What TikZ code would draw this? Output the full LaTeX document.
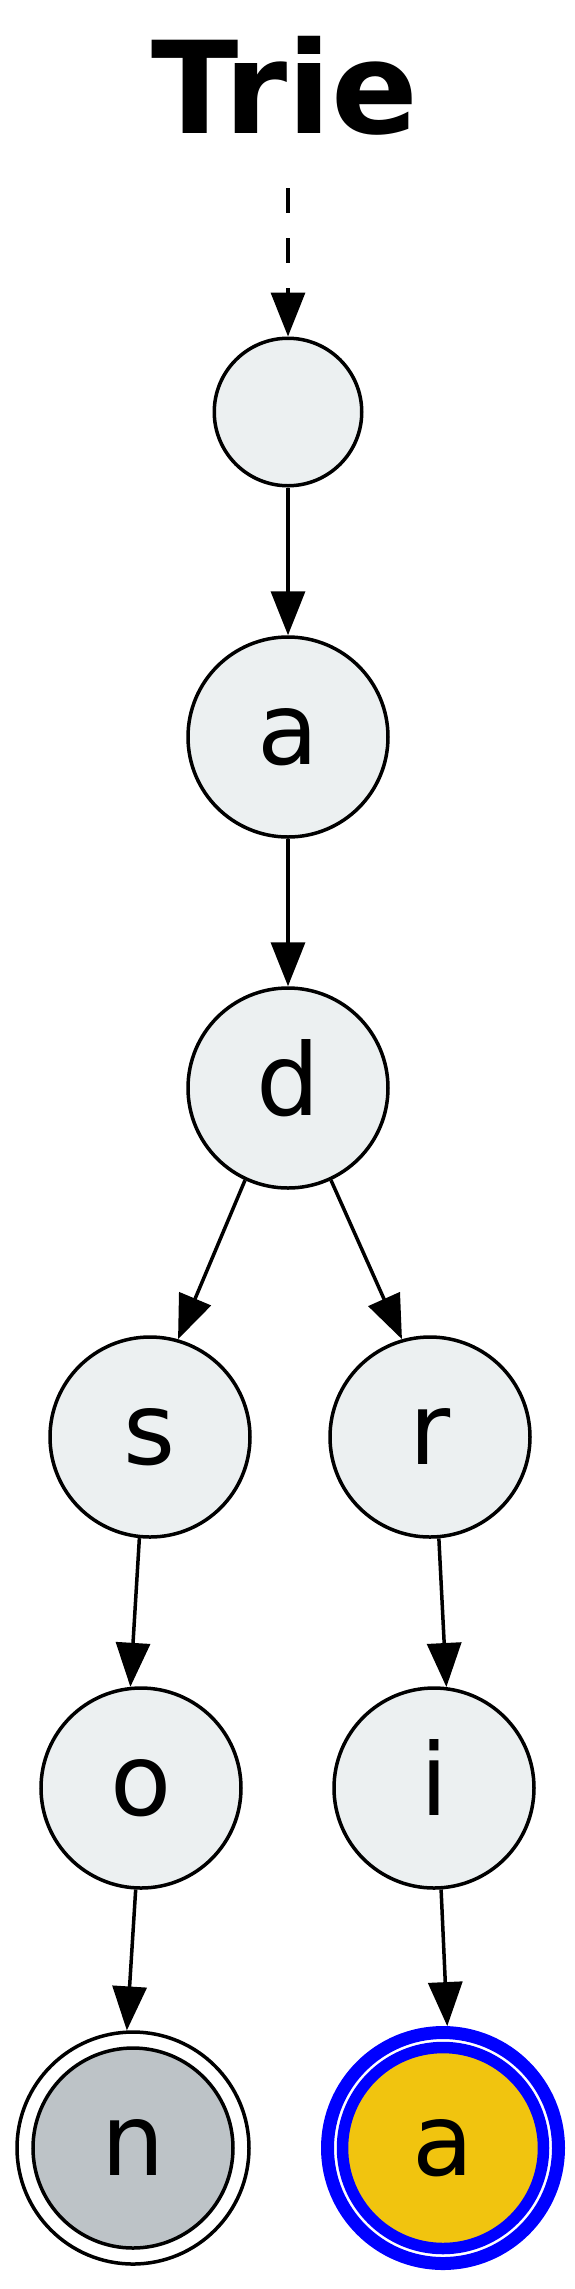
\documentclass[tikz,border=0pt]{standalone}
\usepackage{fontspec}
\setmainfont{DejaVu Sans}
\usetikzlibrary{arrows.meta}
\definecolor{nodegray}{HTML}{ECF0F1}
\definecolor{endgray}{HTML}{BDC3C7}
\definecolor{sunflower}{HTML}{F1C40F}
\definecolor{ringblue}{HTML}{0000FF}
\tikzset{
  trienode/.style={circle, draw=black, line width=3.5pt, fill=nodegray, minimum size=200pt, inner sep=0pt,
    font=\fontsize{100}{100}\selectfont, text height=60pt, text depth=6pt},
  edgearrow/.style={line width=3.5pt, -{Triangle[length=44pt,width=34pt]}},
}
\begin{document}
\begin{tikzpicture}[x=1pt, y=-1pt]
\useasboundingbox (0,0) rectangle (575,2289);
\node[font=\bfseries\fontsize{128}{128}\selectfont, anchor=base, inner sep=0pt] (title) at (285,133) {Trie};
\coordinate (start) at (288,188);
\node[trienode, minimum size=147.5pt] (root) at (288,412) {};
\node[trienode] (a) at (288,737) {a};
\node[trienode] (d) at (288,1088) {d};
\node[trienode] (s) at (150,1437) {s};
\node[trienode] (r) at (430,1437) {r};
\node[trienode] (o) at (141,1788) {o};
\node[trienode] (i) at (434,1788) {i};
% double circle n
\node[circle, draw=black, line width=3.5pt, fill=white, minimum size=232pt, inner sep=0pt] (nout) at (133,2148) {};
\node[trienode, fill=endgray] (n) at (133,2148) {n};
% final a, blue double ring
\node[circle, draw=ringblue, line width=13pt, fill=white, minimum size=231pt, inner sep=0pt] (fa) at (443,2148) {};
\node[trienode, draw=ringblue, line width=11.5pt, fill=sunflower, minimum size=201pt] (fain) at (443,2148) {a};
\draw[edgearrow, dash pattern=on 25pt off 25pt] (start) -- (root.north);
\draw[edgearrow] (root.south) -- (a.north);
\draw[edgearrow] (a.south) -- (d.north);
\draw[edgearrow] (d.245) -- (s.74);
\draw[edgearrow] (d.295) -- (r.106);
\draw[edgearrow] (s.264) -- (o.96);
\draw[edgearrow] (r.275) -- (i.83);
\draw[edgearrow] (o.267) -- (nout.93);
\draw[edgearrow] (i.274) -- (fa.88);
\end{tikzpicture}
\end{document}
